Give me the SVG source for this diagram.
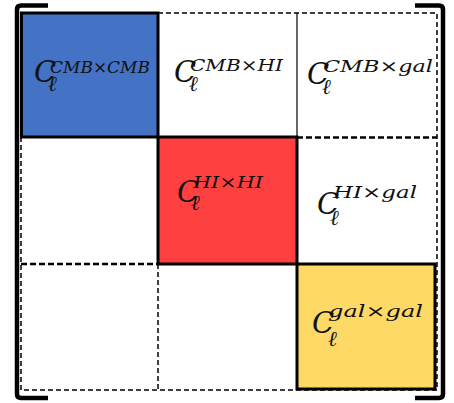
<svg xmlns="http://www.w3.org/2000/svg" width="454" height="403" viewBox="0 0 454 403">
  <style>
    .cell { stroke: #000; stroke-width: 3; }
    .dash { stroke: #000; stroke-width: 1.5; stroke-dasharray: 5 3; fill: none; }
    .dash-bold { stroke: #000; stroke-width: 2.5; stroke-dasharray: 6 3; fill: none; }
    .thin { stroke: #000; stroke-width: 1.2; fill: none; }
    .bracket { stroke: #000; stroke-width: 4.5; fill: none; stroke-linejoin: round; }
    text { font-family: "DejaVu Serif", "Liberation Serif", serif; font-style: italic; fill: #111; }
    .big { font-size: 29px; }
    .sup { font-size: 17.5px; }
    .sub { font-size: 21px; }
  </style>

  <!-- grid lines between the blocks -->
  <g id="grid-lines">
    <path class="dash" d="M158,13 H437 V390 H21 V137"/>
    <path class="thin" d="M297,13 V137"/>
    <path class="dash" d="M158,264 V390"/>
    <path class="dash-bold" d="M297,137.5 H437"/>
    <path class="dash-bold" d="M21,264 H158"/>
  </g>

  <!-- diagonal blocks -->
  <g id="cmb-cmb">
    <rect class="cell" x="21.5" y="13" width="136.5" height="124" fill="#4472C4"/>
    <text x="34" y="82"><tspan class="big">C</tspan><tspan class="sup" x="50" y="73" textLength="100" lengthAdjust="spacingAndGlyphs">CMB×CMB</tspan><tspan class="sub" x="48" y="91">ℓ</tspan></text>
  </g>

  <g id="hi-hi">
    <rect class="cell" x="158" y="137" width="139" height="127" fill="#FF4040"/>
    <text x="177" y="202"><tspan class="big">C</tspan><tspan class="sup" x="193" y="188" textLength="70" lengthAdjust="spacingAndGlyphs">HI×HI</tspan><tspan class="sub" x="191" y="210">ℓ</tspan></text>
  </g>

  <g id="gal-gal">
    <rect class="cell" x="297" y="264" width="138" height="125" fill="#FFD966"/>
    <text x="312" y="333"><tspan class="big">C</tspan><tspan class="sup" x="328" y="317" textLength="95" lengthAdjust="spacingAndGlyphs">gal×gal</tspan><tspan class="sub" x="328" y="346">ℓ</tspan></text>
  </g>

  <!-- off-diagonal blocks -->
  <g id="cmb-hi">
    <text x="174" y="82"><tspan class="big">C</tspan><tspan class="sup" x="190" y="71" textLength="93" lengthAdjust="spacingAndGlyphs">CMB×HI</tspan><tspan class="sub" x="189" y="91">ℓ</tspan></text>
  </g>

  <g id="cmb-gal">
    <text x="307" y="84"><tspan class="big">C</tspan><tspan class="sup" x="323" y="72" textLength="110" lengthAdjust="spacingAndGlyphs">CMB×gal</tspan><tspan class="sub" x="322" y="94">ℓ</tspan></text>
  </g>

  <g id="hi-gal">
    <text x="317" y="214"><tspan class="big">C</tspan><tspan class="sup" x="333" y="198" textLength="84" lengthAdjust="spacingAndGlyphs">HI×gal</tspan><tspan class="sub" x="330" y="225">ℓ</tspan></text>
  </g>

  <!-- matrix brackets -->
  <g id="brackets">
    <path class="bracket" d="M48,5.5 H21 Q17,5.5 17,9.5 V394 Q17,398 21,398 H48"/>
    <path class="bracket" d="M415,5.5 H439 Q443,5.5 443,9.5 V394 Q443,398 439,398 H415"/>
  </g>
</svg>
